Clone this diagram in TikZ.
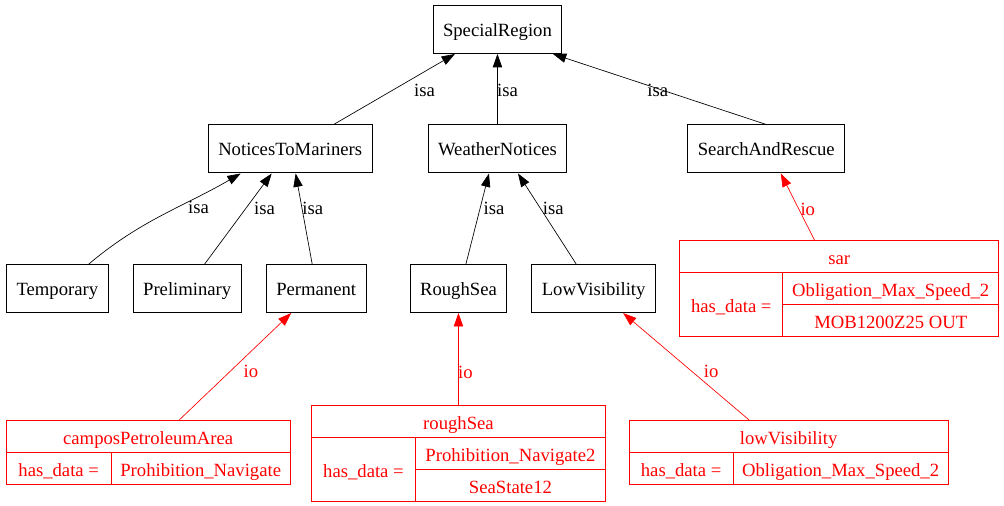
\documentclass[tikz,border=0pt]{standalone}
\usepackage{fontspec}
\setmainfont{Liberation Serif}
\usepackage{tikz}
\usetikzlibrary{arrows.meta,positioning,calc}

\begin{document}
\begin{tikzpicture}[font=\fontsize{14}{16}\selectfont, >={Triangle[length=10pt,width=7pt]}]
  \tikzset{cls/.style={draw, line width=0.75pt, minimum height=36pt, inner xsep=7.5pt,
                       text height=13pt, text depth=3pt},
           rec/.style={draw=red, text=red, line width=0.75pt, inner sep=0pt, outer sep=0pt,
                       text height=15pt, text depth=3pt, minimum height=#1},
           isa/.style={->, line width=0.5pt},
           io/.style={->, red, line width=0.5pt},
           lbl/.style={inner sep=0pt}}
  \useasboundingbox (-373.1pt,22.1pt) rectangle (379.9pt,-357.4pt);

  % class hierarchy
  \node[cls] (sr) at (0,0) {SpecialRegion};
  \node[cls, below=52.9pt of sr]                 (wn)     {WeatherNotices};
  \node[cls, left=41.25pt of wn]                 (ntm)    {NoticesToMariners};
  \node[cls, right=90pt of wn]                   (snr)    {SearchAndRescue};

  \node[cls, below=67.9pt of wn, xshift=-29.25pt] (rough) {RoughSea};
  \node[cls, right=18pt of rough]                (lowvis) {LowVisibility};
  \node[cls, left=32.25pt of rough]              (perm)   {Permanent};
  \node[cls, left=18pt of perm]                  (prelim) {Preliminary};
  \node[cls, left=18pt of prelim]                (temp)   {Temporary};

  % instances
  \node[rec=24pt, minimum width=213pt, below=80.25pt of perm, xshift=-126pt] (rcampos)
       {camposPetroleumArea};
  \node[rec=24pt, minimum width=78.75pt, below right=0pt of rcampos.south west] (rcampos-k)
       {has\_data =};
  \node[rec=24pt, minimum width=134.25pt, right=0pt of rcampos-k] (rcampos-v)
       {Prohibition\_Navigate};

  \node[rec=24pt, minimum width=220.5pt, below=69pt of rough] (rrough) {roughSea};
  \node[rec=48pt, minimum width=78pt, below right=0pt of rrough.south west] (rrough-k)
       {has\_data =};
  \node[rec=24pt, minimum width=142.5pt, below right=0pt of rrough-k.north east] (rrough-v1)
       {Prohibition\_Navigate2};
  \node[rec=24pt, minimum width=142.5pt, below=0pt of rrough-v1] (rrough-v2)
       {SeaState12};

  \node[rec=24pt, minimum width=239.25pt, below=80.25pt of lowvis, xshift=146.25pt] (rlow)
       {lowVisibility};
  \node[rec=24pt, minimum width=78pt, below right=0pt of rlow.south west] (rlow-k)
       {has\_data =};
  \node[rec=24pt, minimum width=161.25pt, right=0pt of rlow-k] (rlow-v)
       {Obligation\_Max\_Speed\_2};

  \node[rec=24pt, minimum width=239.25pt, below=50.25pt of snr, xshift=54.75pt] (rsar) {sar};
  \node[rec=48pt, minimum width=77.25pt, below right=0pt of rsar.south west] (rsar-k)
       {has\_data =};
  \node[rec=24pt, minimum width=162pt, below right=0pt of rsar-k.north east] (rsar-v1)
       {Obligation\_Max\_Speed\_2};
  \node[rec=24pt, minimum width=162pt, below=0pt of rsar-v1] (rsar-v2)
       {MOB1200Z25 OUT};

  \draw[isa] ([xshift=32.6pt]ntm.north) -- node[lbl, pos=.48, xshift=24.5pt] (l-ntm) {isa}
             ([xshift=-31.9pt]sr.south);
  \draw[isa] (wn) -- node[lbl, pos=.48, xshift=7.5pt] (l-wn) {isa} (sr);
  \draw[isa] (snr.north) -- node[lbl, pos=.48, xshift=-4.5pt] (l-snr) {isa}
             ([xshift=41.6pt]sr.south);

  \draw[isa] ([xshift=23.6pt]temp.north) to[out=40, in=-150]
             node[lbl, pos=.6, xshift=16.5pt] (l-temp) {isa} ([xshift=-37.1pt]ntm.south);
  \draw[isa] ([xshift=13.1pt]prelim.north) -- node[lbl, pos=.61, xshift=14.25pt] (l-prelim) {isa}
             ([xshift=-13.9pt]ntm.south);
  \draw[isa] ([xshift=-3pt]perm.north) -- node[lbl, pos=.61, xshift=8pt] (l-perm) {isa}
             ([xshift=4.1pt]ntm.south);
  \draw[isa] ([xshift=5.6pt]rough.north) -- node[lbl, pos=.61, xshift=10.5pt] (l-rough) {isa}
             ([xshift=-6.4pt]wn.south);
  \draw[isa] ([xshift=-13.1pt]lowvis.north) -- node[lbl, pos=.61, xshift=9.5pt] (l-low) {isa}
             ([xshift=15.4pt]wn.south);

  \draw[io] ([xshift=-18.4pt]rsar.north) -- node[lbl, pos=.47, xshift=6.75pt] (l-sar) {io}
            ([xshift=10.9pt]snr.south);
  \draw[io] ([xshift=23.25pt]rcampos.north) -- node[lbl, pos=.45, xshift=16pt] (l-campos) {io}
            ([xshift=-18.75pt]perm.south);
  \draw[io] (rrough.north) -- node[lbl, pos=.35, xshift=5.25pt] (l-rrough) {io} (rough.south);
  \draw[io] ([xshift=-29.6pt]rlow.north) -- node[lbl, pos=.45, xshift=14pt] (l-rlow) {io}
            ([xshift=22.1pt]lowvis.south);
\end{tikzpicture}
\end{document}
